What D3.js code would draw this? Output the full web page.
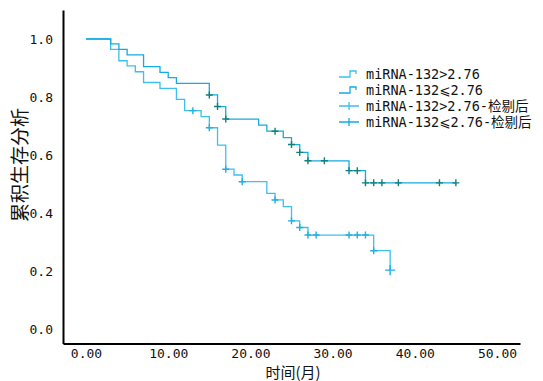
<!DOCTYPE html>
<html>
<head>
<meta charset="utf-8">
<script src="https://cdn.jsdelivr.net/npm/d3@7"></script>
<style>
  body { margin: 0; background: #fff; }
  text { font-family: "DejaVu Sans Mono", "DejaVu Sans", "Noto Sans CJK SC", monospace; }
</style>
</head>
<body>
<svg id="chart" width="543" height="381"></svg>
<script>
// survival steps: [time (months), cumulative survival after the event]
var highSteps = [[0, 1.0], [3, 0.964], [4, 0.925], [5, 0.907], [6, 0.887], [7, 0.850], [9, 0.830],
    [11, 0.792], [12, 0.753], [14, 0.732], [15, 0.694], [16, 0.634], [17, 0.551], [18, 0.531],
    [19, 0.508], [22, 0.468], [23, 0.445], [24, 0.422], [25, 0.373], [26, 0.350], [27, 0.324],
    [35, 0.270], [37, 0.203]];
var highCensor = [13, 15, 17, 19, 23, 25, 26, 27, 28, 32, 33, 34, 35, 37];
var highEnd = 37;

var lowSteps = [[0, 1.0], [3, 0.983], [4, 0.964], [5, 0.945], [7, 0.905], [9, 0.885], [10, 0.867],
    [11, 0.847], [15, 0.807], [16, 0.767], [17, 0.724], [21, 0.703], [22, 0.682], [24, 0.660],
    [25, 0.636], [26, 0.609], [27, 0.580], [32, 0.546], [34, 0.504]];
var lowCensor = [15, 16, 17, 23, 25, 26, 27, 29, 32, 33, 34, 35, 36, 38, 43, 45];
var lowEnd = 45;

var xTicks = [0, 10, 20, 30, 40, 50];
var yTicks = [0, 0.2, 0.4, 0.6, 0.8, 1.0];
var legendLabels = ["miRNA-132>2.76", "miRNA-132⩽2.76", "miRNA-132>2.76-检剔后", "miRNA-132⩽2.76-检剔后"];

var colHigh = "#3dbff0", colLow = "#14abe2", colLowMark = "#12807a";

var svg = d3.select("#chart");

var x = d3.scaleLinear().domain([-2.8, 52.8]).range([63, 520]);
var y = d3.scaleLinear().domain([-0.05, 1.1]).range([343.5, 10]);

// value at a time for a step series
function survAt(steps, t) {
    var v = steps[0][1];
    steps.forEach(function (s) { if (s[0] <= t) v = s[1]; });
    return v;
}

var line = d3.line()
    .x(function (d) { return x(d[0]); })
    .y(function (d) { return y(d[1]); })
    .curve(d3.curveStepAfter);

function drawCurve(steps, end, color) {
    var pts = steps.concat([[end, steps[steps.length - 1][1]]]);
    svg.append("path")
        .attr("d", line(pts))
        .attr("fill", "none")
        .attr("stroke", color)
        .attr("stroke-width", 1.3);
}

function drawCensor(steps, times, color, size) {
    svg.append("g").selectAll("path").data(times).enter()
        .append("path")
        .attr("d", function (t) {
            var cx = x(t), cy = y(survAt(steps, t));
            var s = (t === highEnd && steps === highSteps) ? size + 1.5 : size;
            return "M" + (cx - s) + "," + cy + "H" + (cx + s) + "M" + cx + "," + (cy - s) + "V" + (cy + s);
        })
        .attr("stroke", color)
        .attr("stroke-width", 1.4);
}

drawCurve(highSteps, highEnd, colHigh);
drawCurve(lowSteps, lowEnd, colLow);
drawCensor(highSteps, highCensor, "#22aee3", 3.5);
drawCensor(lowSteps, lowCensor, colLowMark, 3.5);

// axes
var yAxis = svg.append("g")
    .attr("transform", "translate(63,0)")
    .call(d3.axisLeft(y).tickValues(yTicks).tickSize(0).tickPadding(10).tickFormat(d3.format(".1f")));
var xAxis = svg.append("g")
    .attr("transform", "translate(0,343.5)")
    .call(d3.axisBottom(x).tickValues(xTicks).tickSize(0).tickPadding(5).tickFormat(d3.format(".2f")));

[yAxis, xAxis].forEach(function (a) {
    a.select(".domain").attr("stroke", "#000").attr("stroke-width", 2);
    a.selectAll("text").attr("font-size", 13).attr("fill", "#111")
        .style("font-family", "'DejaVu Sans Mono', monospace");
});

svg.append("text")
    .attr("transform", "translate(27,165) rotate(-90)")
    .attr("text-anchor", "middle")
    .attr("font-size", 19)
    .style("font-family", "'Noto Sans CJK SC'")
    .attr("fill", "#111")
    .text("累积生存分析");

svg.append("text")
    .attr("x", 293)
    .attr("y", 378)
    .attr("text-anchor", "middle")
    .attr("font-size", 15)
    .style("font-family", "'Noto Sans CJK SC'")
    .attr("fill", "#111")
    .text("时间(月)");

// legend
var legend = svg.append("g").attr("transform", "translate(339,74)");
var legendColors = [colHigh, colLow, colHigh, colLow];
legendLabels.forEach(function (lab, i) {
    var g = legend.append("g").attr("transform", "translate(0," + (i * 16) + ")");
    if (i < 2) {
        g.append("path")
            .attr("d", "M0,3H11V-3H17V0")
            .attr("fill", "none")
            .attr("stroke", legendColors[i])
            .attr("stroke-width", 1.3);
    } else {
        g.append("path")
            .attr("d", "M0,0H20M10,-4V4")
            .attr("fill", "none")
            .attr("stroke", legendColors[i])
            .attr("stroke-width", 1.3);
    }
    g.append("text")
        .attr("x", 27)
        .attr("y", 0)
        .attr("dy", "0.35em")
        .attr("font-size", 13.5)
        .attr("fill", "#111")
        .text(lab);
});
</script>
</body>
</html>
